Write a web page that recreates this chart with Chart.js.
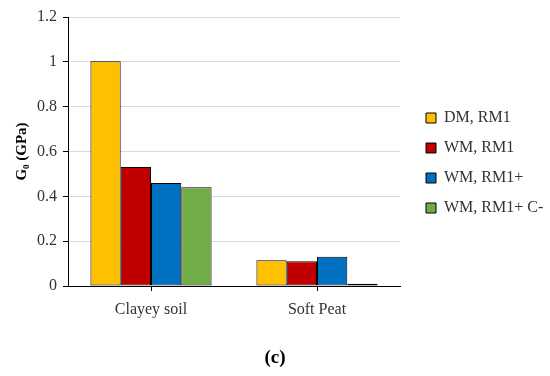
<!DOCTYPE html>
<html>
<head>
<meta charset="utf-8">
<script src="https://cdn.jsdelivr.net/npm/chart.js@4"></script>
<style>
html,body{margin:0;padding:0;background:#fff;}
#wrap{width:550px;height:376px;position:relative;}
</style>
</head>
<body>
<div id="wrap"><canvas id="c" width="550" height="376"></canvas></div>
<script>
const categories = ["Clayey soil", "Soft Peat"];
const seriesNames = ["DM, RM1", "WM, RM1", "WM, RM1+", "WM, RM1+ C-"];
const dmRM1 = [1.003, 0.115];
const wmRM1 = [0.531, 0.11];
const wmRM1p = [0.46, 0.13];
const wmRM1pC = [0.44, 0.01];
const yTicks = [0, 0.2, 0.4, 0.6, 0.8, 1, 1.2];
const yTickLabels = ["0", "0.2", "0.4", "0.6", "0.8", "1", "1.2"];
const colors = ["#FFC000", "#C00000", "#0070C0", "#70AD47"];

const FONT = "'Liberation Serif', 'Times New Roman', serif";
Chart.defaults.font.family = FONT;
Chart.defaults.color = "#333";

const legendPos = {
  id: 'legendPos',
  beforeLayout(chart) {
    const lg = chart.legend;
    if (lg && !lg._patched) {
      const orig = lg.fit;
      lg.fit = function () { orig.call(this); this.width = 150; };
      lg._patched = true;
    }
  },
  afterLayout(chart) {
    const lg = chart.legend;
    if (lg) {
      lg.left = 412; lg.right = 550;
      lg.top = 96; lg.bottom = 376;
    }
  }
};

const values = [dmRM1, wmRM1, wmRM1p, wmRM1pC];
new Chart(document.getElementById('c'), {
  type: 'bar',
  data: {
    labels: categories,
    datasets: seriesNames.map((n, i) => ({
      label: n,
      data: values[i],
      backgroundColor: colors[i],
      borderColor: '#000',
      borderWidth: 1,
      borderSkipped: false,
      categoryPercentage: 0.73,
      barPercentage: 1.0
    }))
  },
  options: {
    responsive: false,
    animation: false,
    layout: { padding: { top: 17, left: 0, right: 0, bottom: 0 } },
    plugins: {
      legend: {
        position: 'right',
        align: 'start',
        labels: { boxWidth: 10, boxHeight: 10, padding: 14, color: '#333', font: { size: 16, family: FONT } }
      },
      title: {
        display: true,
        position: 'bottom',
        text: '(c)',
        color: '#000',
        font: { size: 19, weight: 'bold', family: FONT },
        padding: { top: 4, bottom: 6.6 }
      },
      tooltip: { enabled: false }
    },
    scales: {
      x: {
        grid: { display: true, drawOnChartArea: false, offset: false, tickColor: '#000', tickLength: 5 },
        border: { color: '#000', width: 1 },
        ticks: { padding: 9, color: '#333', font: { size: 16, family: FONT } },
        afterFit(s) { s.height = 56.6; }
      },
      y: {
        min: 0, max: 1.2,
        afterBuildTicks(s) { s.ticks = yTicks.map(v => ({ value: v })); },
        grid: { color: '#D9D9D9', lineWidth: 1, tickColor: '#000', tickLength: 5 },
        border: { color: '#000', width: 1 },
        ticks: {
          padding: 6, color: '#333', font: { size: 16, family: FONT },
          callback(v) { const i = yTicks.indexOf(v); return i >= 0 ? yTickLabels[i] : String(v); }
        },
        title: {
          display: true,
          text: 'G\u2080 (GPa)',
          color: '#000',
          font: { size: 15, weight: 'bold', family: FONT },
          padding: { top: 13, bottom: 0 }
        },
        afterFit(s) { s.width = 68; }
      }
    }
  },
  plugins: [legendPos]
});
</script>
</body>
</html>
